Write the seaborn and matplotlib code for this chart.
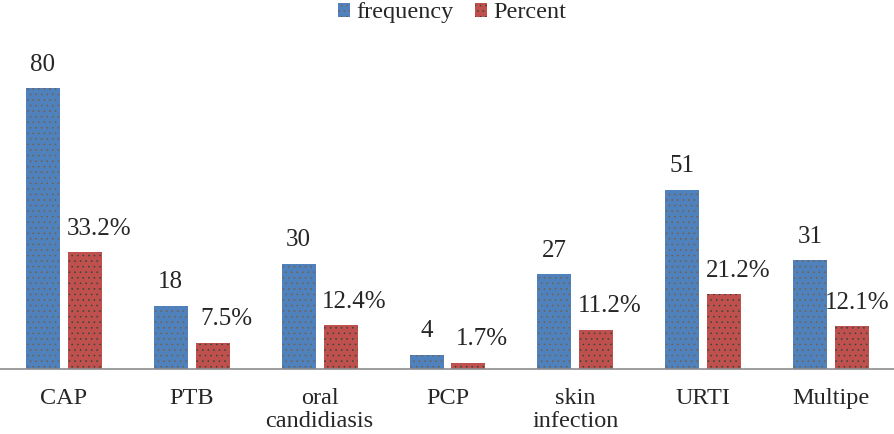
import pandas as pd
import numpy as np
import seaborn as sns
import matplotlib.pyplot as plt

# Values
categories = ['CAP', 'PTB', 'oral\ncandidiasis', 'PCP', 'skin\ninfection', 'URTI', 'Multipe']
frequency = [80, 18, 30, 4, 27, 51, 31]
percent = [33.2, 7.5, 12.4, 1.7, 11.2, 21.2, 12.1]
series = ['frequency', 'Percent']
colors = ['#4f81bd', '#c0504d']
dot_colors = ['#7a5c3c', '#24473a']

df = pd.DataFrame({
    'category': categories * 2,
    'series': [series[0]] * len(categories) + [series[1]] * len(categories),
    'value': frequency + percent,
})

sns.set_style('white')
plt.rcParams['font.family'] = ['Liberation Serif', 'DejaVu Serif']
plt.rcParams['hatch.linewidth'] = 0.35

fig = plt.figure(figsize=(8.95, 4.34), dpi=100)
ax = fig.add_axes([0.0, 0.15, 1.0, 0.728])

sns.barplot(data=df, x='category', y='value', hue='series', palette=colors,
            saturation=1, width=0.656, gap=0.19, ax=ax, legend=True)

# stippled fill like the original
for cont, dc in zip(ax.containers, dot_colors):
    for bar in cont:
        bar.set_hatch('...')
        bar.set_edgecolor(dc)
        bar.set_linewidth(0)

labels = [[str(v) for v in frequency], [f'{v}%' for v in percent]]
for i, (cont, labs) in enumerate(zip(ax.containers, labels)):
    anns = ax.bar_label(cont, labels=labs, padding=9, fontsize=18)
    if i == 1:
        # Percent labels sit a little to the right of their bars
        for j, a in enumerate(anns):
            a.xyann = (4 if j == len(anns) - 1 else 10, 9)

ax.set_ylim(0, 90)
ax.set_xlim(-0.5, len(categories) - 0.5)
ax.set_xlabel('')
ax.set_ylabel('')
ax.set_yticks([])
for side in ['top', 'left', 'right']:
    ax.spines[side].set_visible(False)
ax.spines['bottom'].set_color('#8c8c8c')
ax.spines['bottom'].set_linewidth(1.2)
ax.tick_params(axis='x', length=0, pad=14, labelsize=17.5)
for t in ax.get_xticklabels():
    t.set_linespacing(1.1)

handles, lbls = ax.get_legend_handles_labels()
ax.legend_.remove()
leg = fig.legend(handles, lbls, loc='upper center', bbox_to_anchor=(0.505, 1.045), ncol=2,
                 frameon=False, fontsize=17.5, handlelength=0.5, handleheight=0.5,
                 handletextpad=0.25, columnspacing=0.9)
for h, dc in zip(leg.legend_handles, dot_colors):
    h.set_hatch('...')
    h.set_edgecolor(dc)
    h.set_linewidth(0)

plt.savefig('out.png', dpi=100)
